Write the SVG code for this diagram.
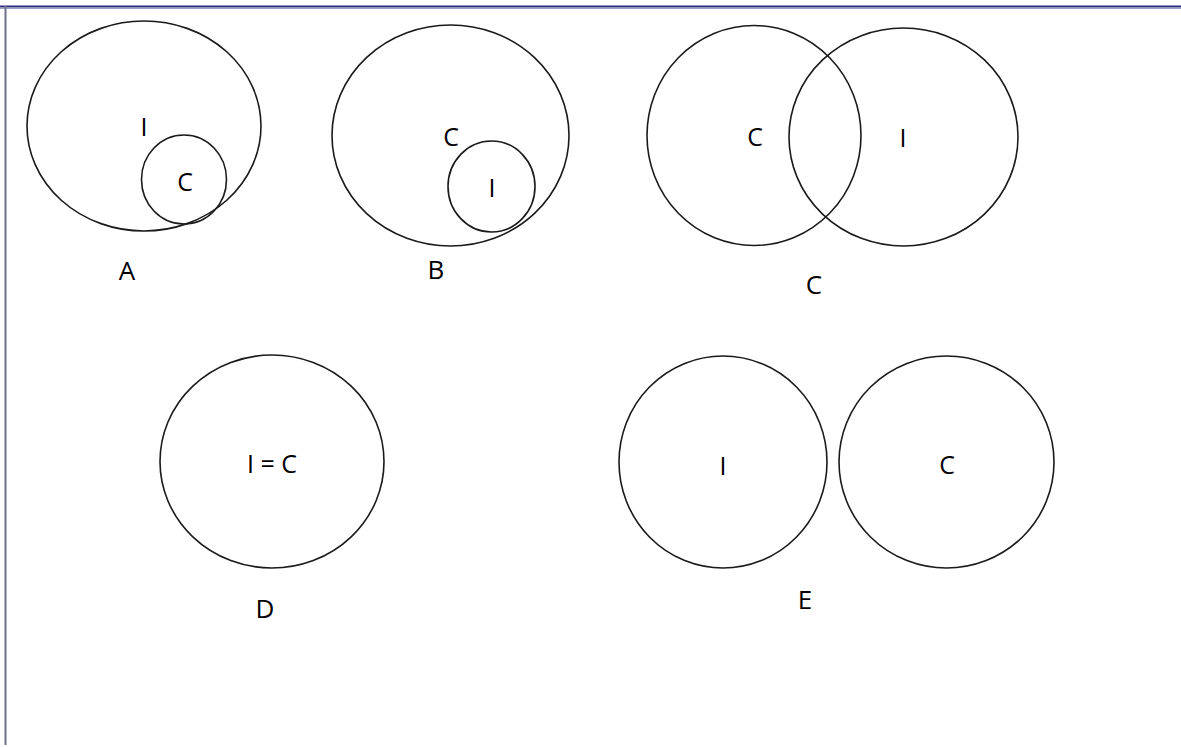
<svg xmlns="http://www.w3.org/2000/svg" width="1181" height="747" viewBox="0 0 1181 747">
<style>
.c{fill:none;stroke:#1a1a1a;stroke-width:1.6}
.t{font-family:"Open Sans","Liberation Sans",sans-serif;font-size:26px;fill:#000;text-anchor:middle}
.s{font-size:25px}
</style>
<rect x="0" y="0" width="1181" height="747" fill="#ffffff"/>
<line x1="0" y1="6.5" x2="1181" y2="6.5" stroke="#2b2f7c" stroke-width="2"/>
<line x1="0" y1="8.5" x2="1181" y2="8.5" stroke="#9aa0cc" stroke-width="1"/>
<line x1="5.5" y1="6" x2="5.5" y2="745" stroke="#6f708a" stroke-width="2"/>
<g id="diagram-A">
<ellipse class="c" cx="144" cy="126" rx="117" ry="105"/>
<ellipse class="c" cx="184" cy="179.5" rx="42.5" ry="44.5"/>
<text class="t s" x="144" y="136">I</text>
<text class="t s" x="185" y="191">C</text>
<text class="t" x="127" y="280">A</text>
</g>
<g id="diagram-B">
<ellipse class="c" cx="450.5" cy="135.5" rx="118.5" ry="110.5"/>
<ellipse class="c" cx="491.5" cy="186.5" rx="43.5" ry="45.5"/>
<text class="t s" x="451" y="146">C</text>
<text class="t s" x="492" y="197">I</text>
<text class="t" x="436" y="279">B</text>
</g>
<g id="diagram-C">
<ellipse class="c" cx="754" cy="135.5" rx="107" ry="110"/>
<ellipse class="c" cx="903.5" cy="137" rx="114.5" ry="109"/>
<text class="t s" x="755" y="146">C</text>
<text class="t s" x="903" y="147">I</text>
<text class="t" x="814" y="294">C</text>
</g>
<g id="diagram-D">
<ellipse class="c" cx="272" cy="461.5" rx="112" ry="106.5"/>
<text class="t s" x="272" y="473">I = C</text>
<text class="t" x="265" y="618">D</text>
</g>
<g id="diagram-E">
<ellipse class="c" cx="723" cy="462" rx="104" ry="106"/>
<ellipse class="c" cx="946.5" cy="462" rx="107.5" ry="106"/>
<text class="t s" x="723" y="475">I</text>
<text class="t s" x="947" y="474">C</text>
<text class="t" x="805" y="609">E</text>
</g>
<g id="connectors"></g>
</svg>
